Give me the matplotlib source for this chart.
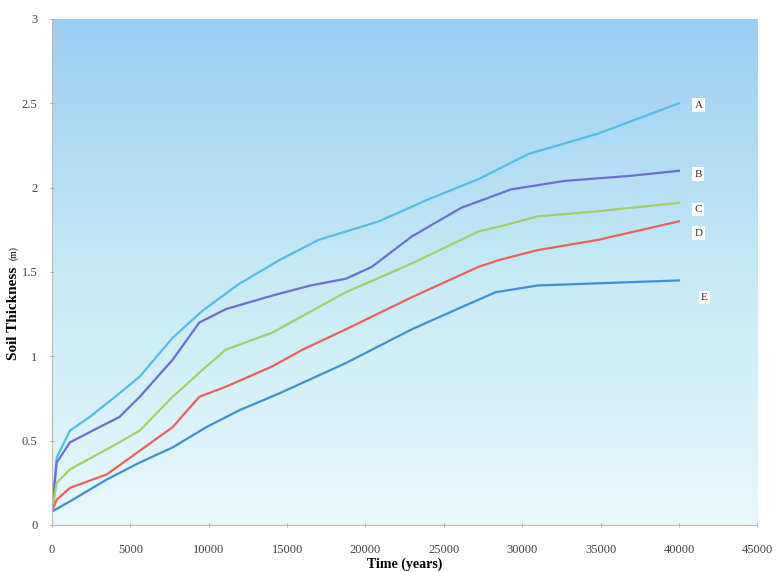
import numpy as np
import matplotlib.pyplot as plt
from matplotlib.colors import LinearSegmentedColormap

# Soil thickness (m) against time (years)
t_a = [0, 300, 1150, 2400, 4300, 5600, 7700, 9600, 11950, 14500, 17000, 20850, 24000, 27200, 30400, 34830, 40000]
a = [0.08, 0.40, 0.56, 0.64, 0.78, 0.88, 1.11, 1.27, 1.43, 1.57, 1.69, 1.80, 1.93, 2.05, 2.20, 2.32, 2.50]

t_b = [0, 300, 1150, 2400, 4300, 5600, 7700, 9400, 11100, 14050, 16500, 18750, 20400, 22950, 26100, 29300, 32700, 36900, 40000]
b = [0.08, 0.37, 0.49, 0.55, 0.64, 0.76, 0.98, 1.20, 1.28, 1.36, 1.42, 1.46, 1.53, 1.71, 1.88, 1.99, 2.04, 2.07, 2.10]

t_c = [0, 300, 1150, 4300, 5600, 7700, 9850, 11100, 14050, 16000, 18750, 22950, 27200, 29000, 31000, 34830, 40000]
c = [0.08, 0.25, 0.33, 0.49, 0.56, 0.76, 0.94, 1.04, 1.14, 1.24, 1.38, 1.55, 1.74, 1.78, 1.83, 1.86, 1.91]

t_d = [0, 300, 1150, 3500, 5600, 7700, 9400, 11100, 14050, 16000, 18750, 22950, 27200, 28500, 31000, 34830, 40000]
d = [0.08, 0.15, 0.22, 0.30, 0.44, 0.58, 0.76, 0.82, 0.94, 1.04, 1.16, 1.35, 1.53, 1.57, 1.63, 1.69, 1.80]

t_e = [0, 1150, 3500, 5600, 7700, 9850, 11950, 14500, 18750, 22950, 26100, 28300, 31000, 34000, 40000]
e = [0.08, 0.14, 0.27, 0.37, 0.46, 0.58, 0.68, 0.78, 0.96, 1.16, 1.29, 1.38, 1.42, 1.43, 1.45]

labels = ['A', 'B', 'C', 'D', 'E']
label_x = [41000, 41000, 41000, 41000, 41400]
label_y = [2.49, 2.08, 1.87, 1.73, 1.35]

colors = ['#55bde6', '#6a6fd0', '#9fcf6e', '#e8625c', '#3f8fd2']

fig = plt.figure(figsize=(7.77, 5.72), dpi=100)
ax = fig.add_axes([0.0669, 0.0822, 0.9077, 0.8846])

# gradient background
cmap = LinearSegmentedColormap.from_list('bg', ['#e8f8fb', '#c6eaf6', '#9ccdf2'])
grad = np.linspace(0, 1, 256).reshape(-1, 1)
ax.imshow(grad, extent=[0, 45000, 0, 3], origin='lower', aspect='auto',
          cmap=cmap, zorder=0)

for tt, yy, col in zip([t_a, t_b, t_c, t_d, t_e], [a, b, c, d, e], colors):
    ax.plot(tt, yy, color=col, lw=1.6, zorder=2)

for lab, lx, ly in zip(labels, label_x, label_y):
    ax.text(lx, ly, lab, fontsize=8, family='Liberation Serif', va='center',
            ha='left', color='#333333',
            bbox=dict(boxstyle='square,pad=0.2', fc='white', ec='none'))

ax.set_xlim(0, 45000)
ax.set_ylim(0, 3)
ax.set_xticks(np.arange(0, 45001, 5000))
ax.set_xticklabels([str(v) for v in range(0, 45001, 5000)],
                   family='Liberation Serif', fontsize=9, color='#444444')
ax.set_yticks([0, 0.5, 1, 1.5, 2, 2.5, 3])
ax.set_yticklabels(['0', '0.5', '1', '1.5', '2', '2.5', '3'],
                   family='Liberation Serif', fontsize=9, color='#444444')
ax.tick_params(axis='x', length=3, color='#aaaaaa', direction='inout', pad=12)
ax.tick_params(axis='y', length=3, color='#aaaaaa', direction='inout', pad=9)

for s in ['top', 'right']:
    ax.spines[s].set_visible(False)
for s in ['left', 'bottom']:
    ax.spines[s].set_color('#bbbbbb')
    ax.spines[s].set_linewidth(0.8)

ax.set_xlabel('Time (years)', family='Liberation Serif', fontweight='bold',
              fontsize=10, labelpad=1)
fig.text(0.018, 0.453, 'Soil Thickness', rotation=90, family='Liberation Serif',
         fontweight='bold', fontsize=11, ha='center', va='center')
fig.text(0.018, 0.558, '(m)', rotation=90, family='Liberation Serif',
         fontsize=7, ha='center', va='center')

plt.savefig('out.png', dpi=100)
